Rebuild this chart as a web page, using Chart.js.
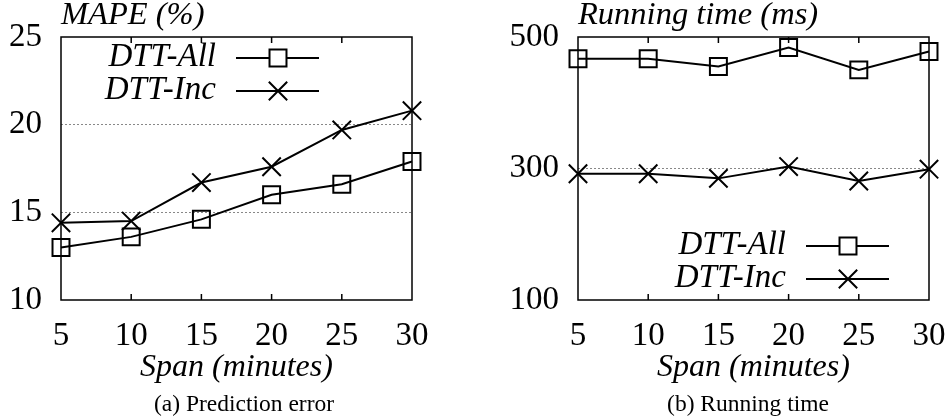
<!DOCTYPE html>
<html>
<head>
<meta charset="utf-8">
<script src="https://cdn.jsdelivr.net/npm/chart.js@4/dist/chart.umd.min.js"></script>
<style>
  body { margin: 0; background: #fff; }
  #wrap { position: relative; width: 946px; height: 419px; }
  .panel { position: absolute; top: 0; width: 473px; height: 419px; }
  .caption { position: absolute; top: 392px; width: 300px; text-align: center;
             font: 23.5px "Liberation Serif", "Times New Roman", serif; line-height: 22px; color: #000; }
</style>
</head>
<body>
<div id="wrap">
  <div class="panel" style="left:0"><canvas id="errChart"></canvas></div>
  <div class="panel" style="left:473px"><canvas id="timeChart"></canvas></div>
  <div class="caption" style="left:94px">(a) Prediction error</div>
  <div class="caption" style="left:598px">(b) Running time</div>
</div>
<script>
// x axis: span in minutes
const spans = ['5', '10', '15', '20', '25', '30'];

// (a) prediction error, MAPE %
const mapeAll = [13.0, 13.6, 14.6, 16.0, 16.6, 17.9];
const mapeInc = [14.4, 14.5, 16.7, 17.6, 19.7, 20.8];

// (b) running time, ms
const timeAll = [467, 467, 455, 484, 450, 478];
const timeInc = [292, 292, 285, 303, 281, 299];

const serif = '"Liberation Serif", "Times New Roman", serif';

// frame, inward x tick marks, header text and the gnuplot-style legend
const framePlugin = {
    id: 'frame',
    afterDraw(chart, args, opts) {
        const ctx = chart.ctx;
        const a = chart.chartArea;
        const x = chart.scales.x;
        ctx.save();
        ctx.strokeStyle = '#000';
        ctx.lineWidth = 1.5;
        ctx.strokeRect(a.left, a.top, a.right - a.left, a.bottom - a.top);
        ctx.beginPath();
        for (let i = 1; i < x.ticks.length - 1; i++) {
            const px = x.getPixelForTick(i);
            ctx.moveTo(px, a.bottom); ctx.lineTo(px, a.bottom - 6);
            ctx.moveTo(px, a.top); ctx.lineTo(px, a.top + 6);
        }
        ctx.stroke();

        ctx.fillStyle = '#000';
        ctx.font = 'italic 32.5px ' + serif;
        ctx.textAlign = 'left';
        ctx.textBaseline = 'alphabetic';
        ctx.fillText(opts.header, a.left, 24);

        ctx.font = 'italic 33px ' + serif;
        chart.data.datasets.forEach((ds, i) => {
            const y = opts.legendY + i * 33;
            const tx = a.left + opts.legendX;
            ctx.fillStyle = '#000';
            ctx.textAlign = 'right';
            ctx.fillText(ds.label, tx, y + 8);
            ctx.lineWidth = 2;
            ctx.beginPath();
            ctx.moveTo(tx + 20, y); ctx.lineTo(tx + 103, y);
            ctx.stroke();
            ctx.fillStyle = '#fff';
            Chart.helpers.drawPoint(ctx, {
                pointStyle: ds.pointStyle, radius: ds.pointRadius, rotation: 0, borderWidth: 2
            }, tx + 62, y);
        });
        ctx.restore();
    }
};

function makeChart(id, allData, incData, yMin, yMax, step, yWidth, padRight, header, legendX, legendY) {
    const lineStyle = {
        borderColor: '#000',
        borderWidth: 2,
        pointBorderColor: '#000',
        pointBackgroundColor: 'rgba(0,0,0,0)',
        pointBorderWidth: 2,
        clip: false
    };
    return new Chart(document.getElementById(id), {
        type: 'line',
        data: {
            labels: spans,
            datasets: [
                Object.assign({ label: 'DTT-All', data: allData, pointStyle: 'rect', pointRadius: 12 }, lineStyle),
                Object.assign({ label: 'DTT-Inc', data: incData, pointStyle: 'crossRot', pointRadius: 13 }, lineStyle)
            ]
        },
        options: {
            responsive: true,
            maintainAspectRatio: false,
            animation: false,
            layout: { padding: { top: 37, right: padRight, left: 0, bottom: 0 } },
            plugins: {
                legend: { display: false },
                tooltip: { enabled: false },
                frame: { header: header, legendX: legendX, legendY: legendY }
            },
            scales: {
                x: {
                    grid: { display: false },
                    border: { display: false },
                    ticks: { color: '#000', font: { family: serif, size: 33 }, padding: 9, maxRotation: 0 },
                    title: {
                        display: true,
                        text: 'Span (minutes)',
                        color: '#000',
                        font: { family: serif, size: 32, style: 'italic' },
                        padding: { top: 0, bottom: 32 }
                    },
                    afterFit(scale) {
                        scale.height = 119;
                        scale.paddingLeft = 0;
                        scale.paddingRight = 0;
                    }
                },
                y: {
                    min: yMin,
                    max: yMax,
                    grid: {
                        drawTicks: false,
                        lineWidth: 1,
                        color: c => (c.tick && (c.tick.value === yMin || c.tick.value === yMax)) ? 'rgba(0,0,0,0)' : '#888'
                    },
                    border: { display: false, dash: [2, 2] },
                    ticks: { stepSize: step, color: '#000', font: { family: serif, size: 33 }, padding: 19 },
                    afterFit(scale) {
                        scale.width = yWidth;
                        scale.paddingTop = 0;
                        scale.paddingBottom = 0;
                    }
                }
            }
        },
        plugins: [framePlugin]
    });
}

makeChart('errChart', mapeAll, mapeInc, 10, 25, 5, 61, 61, 'MAPE (%)', 155, 58);
makeChart('timeChart', timeAll, timeInc, 100, 500, 200, 105, 17, 'Running time (ms)', 208, 246);
</script>
</body>
</html>
